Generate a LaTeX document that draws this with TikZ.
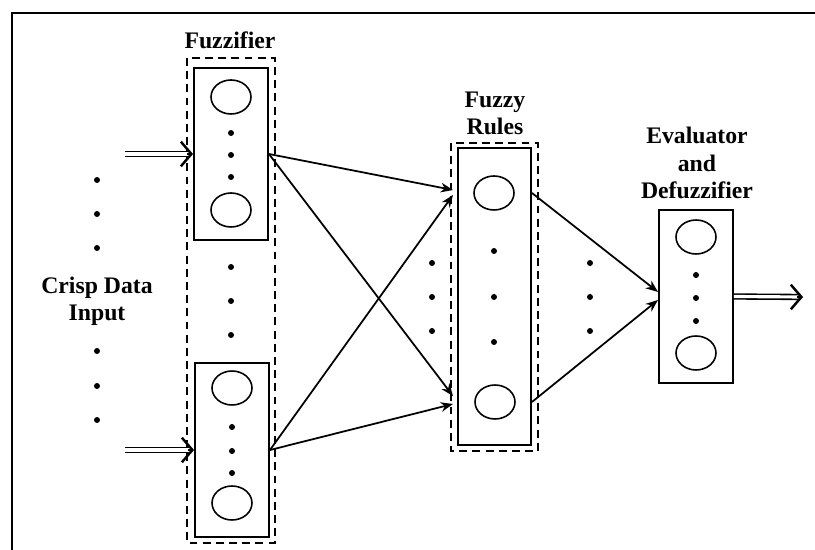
\documentclass[tikz,border=0pt]{standalone}
\usepackage{fontspec}
\setmainfont{Liberation Serif}
\usetikzlibrary{arrows.meta,shapes.geometric,calc}

\tikzset{
  lbl/.style={font=\bfseries\fontsize{13.5}{15.5}\selectfont, align=center},
  unitbox/.style={draw, line width=1.1pt, minimum width=1.48cm},
  grpbox/.style={draw, line width=1.2pt, dash pattern=on 4.5pt off 3pt},
  mf/.style={draw, ellipse, line width=0.9pt, minimum width=0.8cm, minimum height=0.68cm, inner sep=0pt},
  link/.style={line width=1pt, -{Stealth[length=7pt,width=5.5pt]}},
  crisp/.style={double, line width=0.9pt, double distance=1.8pt, shorten >=1.5pt},
  crisptip/.style={line width=1.4pt, -{Straight Barb[length=6pt,width=14pt]}}
}

\begin{document}
\begin{tikzpicture}[x=0.02cm, y=-0.02cm]
    \useasboundingbox (0,0) rectangle (815,550);
    \draw[line width=1.6pt] (12,550) -- (12,13) -- (815,13);
    % Labels
    \node[lbl] (lfz) at (230,40) {Fuzzifier};
    \node[lbl] (lru) at (495,113) {Fuzzy\\Rules};
    \node[lbl] (lev) at (697,163) {Evaluator\\and\\Defuzzifier};
    \node[lbl] (lin) at (97,301) {Crisp Data\\Input};
    % Group boxes
    \draw[grpbox] (187,58) rectangle (275,543);
    \draw[grpbox] (451,143) rectangle (538,451);
    % Units
    \node[unitbox, minimum height=3.44cm] (fz1) at (231,154) {};
    \node[unitbox, minimum height=3.48cm] (fz2) at (232,450) {};
    \node[unitbox, minimum width=1.46cm, minimum height=5.94cm] (ru) at (494.5,296.5) {};
    \node[unitbox, minimum height=3.46cm] (ev) at (696,296.5) {};
    % Membership functions
    \node[mf] (fz1a) at (231,97) {}; \node[mf] (fz1b) at (231,210) {};
    \node[mf] (fz2a) at (232,388) {}; \node[mf] (fz2b) at (232,503) {};
    \node[mf] (rua) at (494,193) {}; \node[mf] (rub) at (495,402) {};
    \node[mf] (eva) at (696,237) {}; \node[mf] (evb) at (696,353) {};
    % Dots
    \foreach \x/\y in {231/133, 231/155, 231/177, 231/267, 231/301, 231/335,
                       232/427, 232/451, 232/473,
                       97/180, 97/214, 97/248, 97/351, 97/386, 97/420,
                       494/251, 494/297, 494/342, 432/263, 432/297, 432/331,
                       590/263, 590/297, 590/331, 696/275, 696/298, 696/321}
        \fill (\x,\y) circle (0.06cm);
    % Connection points
    \coordinate (in1) at (125,154);
    \coordinate (in2) at (125,450);
    \coordinate (r1a) at (453,190); \coordinate (r1b) at (453,195);
    \coordinate (r2a) at (453,396); \coordinate (r2b) at (453,404);
    \coordinate (ru1) at (ru.east |- rua); \coordinate (ru2) at (ru.east |- rub);
    \coordinate (e1) at (658,292); \coordinate (e2) at (658,300);
    \coordinate (out) at (803,297);
    % Crisp in/out arrows
    \draw[crisp] (in1) -- (fz1.west);
    \draw[crisptip] ($(fz1.west)+(-6,0)$) -- (fz1.west);
    \draw[crisp] (in2) -- (fz2.west);
    \draw[crisptip] ($(fz2.west)+(-6,0)$) -- (fz2.west);
    \draw[crisp] (ev.east) -- (out);
    \draw[crisptip] ($(out)+(-6,0)$) -- (out);
    % Connectors
    \draw[link] (fz1.east) -- (r1a);
    \draw[link] (fz1.east) -- (r2a);
    \draw[link] (fz2.east) -- (r1b);
    \draw[link] (fz2.east) -- (r2b);
    \draw[link] (ru1) -- (e1);
    \draw[link] (ru2) -- (e2);
\end{tikzpicture}
\end{document}
